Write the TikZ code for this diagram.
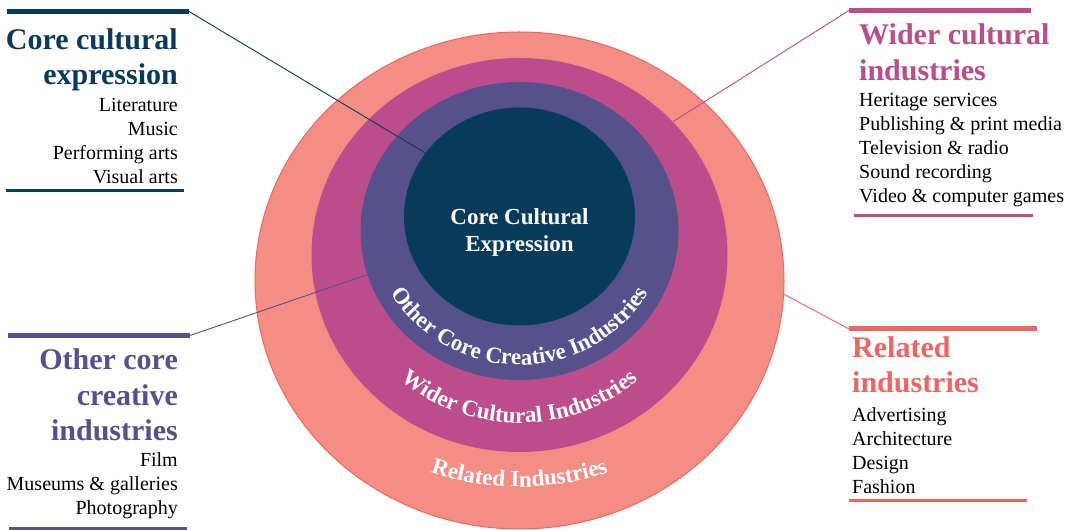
\documentclass[tikz,border=0pt]{standalone}
\usepackage{fontspec}
\setmainfont{Liberation Serif}
\usetikzlibrary{calc, shapes.geometric, decorations.text, positioning}

\definecolor{coreblue}{RGB}{7,59,89}
\definecolor{otherpurple}{RGB}{86,80,140}
\definecolor{widermagenta}{RGB}{187,77,141}
\definecolor{relsalmon}{RGB}{244,142,133}
\definecolor{relred}{RGB}{239,101,99}

\newcommand{\ringfont}{\fontsize{23}{27}\selectfont\bfseries}

\begin{document}
\begin{tikzpicture}[x=1pt, y=1pt,
        ring/.style={ellipse, inner sep=0pt},
        headline/.style={font=\fontsize{30}{35}\selectfont\bfseries, inner sep=0pt},
        itemline/.style={font=\fontsize{20}{24}\selectfont, inner sep=0pt},
        topbar/.style={line width=5pt},
        botbar/.style={line width=3pt},
        link/.style={line width=0.9pt}]
        \useasboundingbox (0,0) rectangle (1074,530);

        % the four rings, outside in
        \node[ring, fill=relsalmon, draw=relred, line width=1pt, minimum width=529pt, minimum height=497pt] (related) at (519.5,249.5) {};
        \node[ring, fill=widermagenta, minimum width=416pt, minimum height=394pt] (wider) at (519.5,275) {};
        \node[ring, fill=otherpurple, minimum width=318pt, minimum height=298pt] (othercore) at (519.5,299) {};
        \node[ring, fill=coreblue, minimum width=231pt, minimum height=218pt] (core) at (519.5,313.5) {};

        \node[font=\ringfont, text=white, anchor=base, inner sep=0pt] (corelabel-1) at (519.5,305) {Core Cultural};
        \node[font=\ringfont, text=white, anchor=base, inner sep=0pt] (corelabel-2) at (519.5,278) {Expression};

        % ring names bent along the bottom
        \path[decorate, decoration={text along path, text align=center, text color=white,
            text={|\ringfont|Other Core Creative Industries}}]
            (519.5,317) ++(195:152pt) arc[start angle=195, end angle=345, radius=152pt];
        \path[decorate, decoration={text along path, text align=center, text color=white,
            text={|\ringfont|Wider Cultural Industries}}]
            (519.5,294) ++(215:187pt) arc[start angle=215, end angle=325, radius=187pt];
        \path[decorate, decoration={text along path, text align=center, text color=white,
            text={|\ringfont|Related Industries}}]
            (519.5,322) ++(235:279pt) arc[start angle=235, end angle=305, radius=279pt];

        % core cultural expression
        \coordinate (corebar-l) at (7,518.5);
        \coordinate (corebar-r) at (189,518.5);
        \draw[topbar, coreblue] (corebar-l) -- (corebar-r);
        \foreach \txt [count=\i] in {Core cultural,expression}
            \node[headline, text=coreblue, anchor=base east] (corehead-\i) at (178,515-35*\i) {\txt};
        \foreach \txt [count=\i] in {Literature,Music,Performing arts,Visual arts}
            \node[itemline, anchor=base east] (coreitem-\i) at (178,442-24*\i) {\txt};
        \draw[botbar, coreblue] (6,339) -- (184,339);
        \draw[link, coreblue] (corebar-r) -- (core.146);

        % wider cultural industries
        \coordinate (widerbar-l) at (849,519.5);
        \coordinate (widerbar-r) at (1031,519.5);
        \draw[topbar, widermagenta] (widerbar-l) -- (widerbar-r);
        \foreach \txt [count=\i] in {Wider cultural,industries}
            \node[headline, text=widermagenta, anchor=base west] (widerhead-\i) at (859,521-36*\i) {\txt};
        \foreach \txt [count=\i] in {Heritage services,Publishing \& print media,Television \& radio,Sound recording,Video \& computer games}
            \node[itemline, anchor=base west] (wideritem-\i) at (859,447-24*\i) {\txt};
        \draw[botbar, widermagenta] (854,314.5) -- (1033,314.5);
        \draw[link, widermagenta] (widerbar-l) -- (wider.41);

        % other core creative industries
        \coordinate (otherbar-l) at (8,194.5);
        \coordinate (otherbar-r) at (190,194.5);
        \draw[topbar, otherpurple] (otherbar-l) -- (otherbar-r);
        \foreach \txt [count=\i] in {Other core,creative,industries}
            \node[headline, text=otherpurple, anchor=base east] (otherhead-\i) at (178,195.5-35.5*\i) {\txt};
        \foreach \txt [count=\i] in {Film,Museums \& galleries,Photography}
            \node[itemline, anchor=base east] (otheritem-\i) at (178,87-24*\i) {\txt};
        \draw[botbar, otherpurple] (9,1.5) -- (187,1.5);
        \draw[link, otherpurple] (otherbar-r) -- (othercore.196);

        % related industries
        \coordinate (relbar-l) at (849,201);
        \coordinate (relbar-r) at (1037,201);
        \draw[topbar, relred] (relbar-l) -- (relbar-r);
        \foreach \txt [count=\i] in {Related,industries}
            \node[headline, text=relred, anchor=base west] (relhead-\i) at (852,207-35*\i) {\txt};
        \foreach \txt [count=\i] in {Advertising,Architecture,Design,Fashion}
            \node[itemline, anchor=base west] (relitem-\i) at (852,132-24*\i) {\txt};
        \draw[botbar, relred] (849,29.5) -- (1027,29.5);
        \draw[link, relred] (relbar-l) -- (related.-3);
\end{tikzpicture}
\end{document}
